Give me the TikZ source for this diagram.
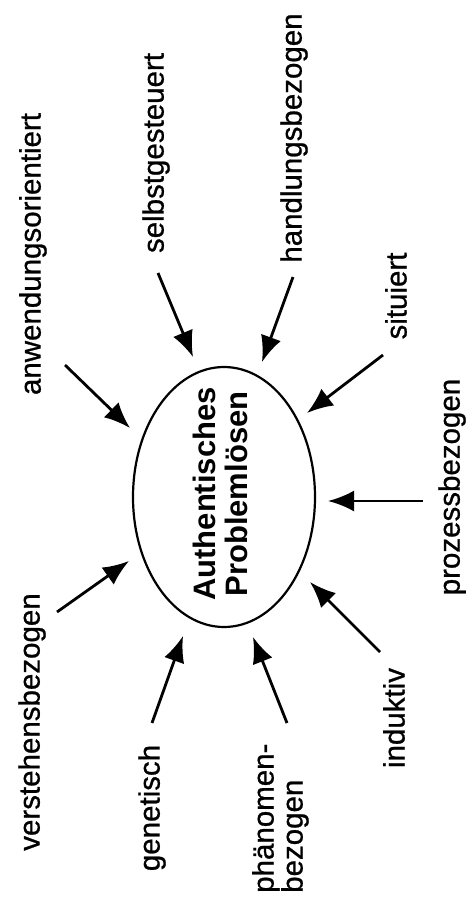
\documentclass[tikz,border=0pt]{standalone}
\usepackage{fontspec}
\setmainfont{Liberation Sans}
\newfontfamily\lblfont[FakeBold=0.8]{Liberation Sans}
\usetikzlibrary{shapes.geometric,arrows.meta}
\begin{document}
\begin{tikzpicture}[x=1pt,y=-1pt,
  lbl/.style={rotate=90, inner sep=0pt, font=\lblfont\fontsize{29.5}{29}\selectfont},
  arr/.style={line width=2.8pt, -{Latex[length=26pt,width=21pt]}},
  oval/.style={ellipse, draw, line width=2.2pt, minimum width=182pt, minimum height=260pt, inner sep=0pt}]
\fill[white] (0,0) rectangle (472,908);
\useasboundingbox (0,0) rectangle (472,908);
% central ellipse
\node[oval] (c) at (224,497) {};
\node[rotate=90, inner sep=0pt, align=center, font=\bfseries\fontsize{31}{32}\selectfont] (ct) at (220,494) {Authentisches\\Problemlösen};
% labels
\node[lbl] (anw) at (33,254) {anwendungsorientiert};
\node[lbl] (sel) at (156,153) {selbstgesteuert};
\node[lbl] (han) at (294,138) {handlungsbezogen};
\node[lbl] (sit) at (396,296) {situiert};
\node[lbl] (pro) at (452,487) {prozessbezogen};
\node[lbl] (ind) at (394,718) {induktiv};
\node[lbl, align=left, anchor=north west] (pha) at (252,893) {phänomen-\\bezogen};
\node[lbl] (gen) at (152,808) {genetisch};
\node[lbl] (ver) at (32,722) {verstehensbezogen};
% arrow end points
\coordinate (anwT) at (65,365);  \coordinate (anwH) at (130,428);
\coordinate (selT) at (158,273); \coordinate (selH) at (193,357);
\coordinate (hanT) at (293,277); \coordinate (hanH) at (262,362);
\coordinate (sitT) at (383,355); \coordinate (sitH) at (307,413);
\coordinate (proT) at (423,501); \coordinate (proH) at (328,501);
\coordinate (indT) at (380,652); \coordinate (indH) at (310,582);
\coordinate (phaT) at (287,723); \coordinate (phaH) at (253,637);
\coordinate (genT) at (152,723); \coordinate (genH) at (183,636);
\coordinate (verT) at (57,612);  \coordinate (verH) at (129,561);
% arrows
\draw[arr] (anwT) -- (anwH);
\draw[arr] (selT) -- (selH);
\draw[arr] (hanT) -- (hanH);
\draw[arr] (sitT) -- (sitH);
\draw[arr] (proT) -- (proH);
\draw[arr] (indT) -- (indH);
\draw[arr] (phaT) -- (phaH);
\draw[arr] (genT) -- (genH);
\draw[arr] (verT) -- (verH);
\end{tikzpicture}
\end{document}
